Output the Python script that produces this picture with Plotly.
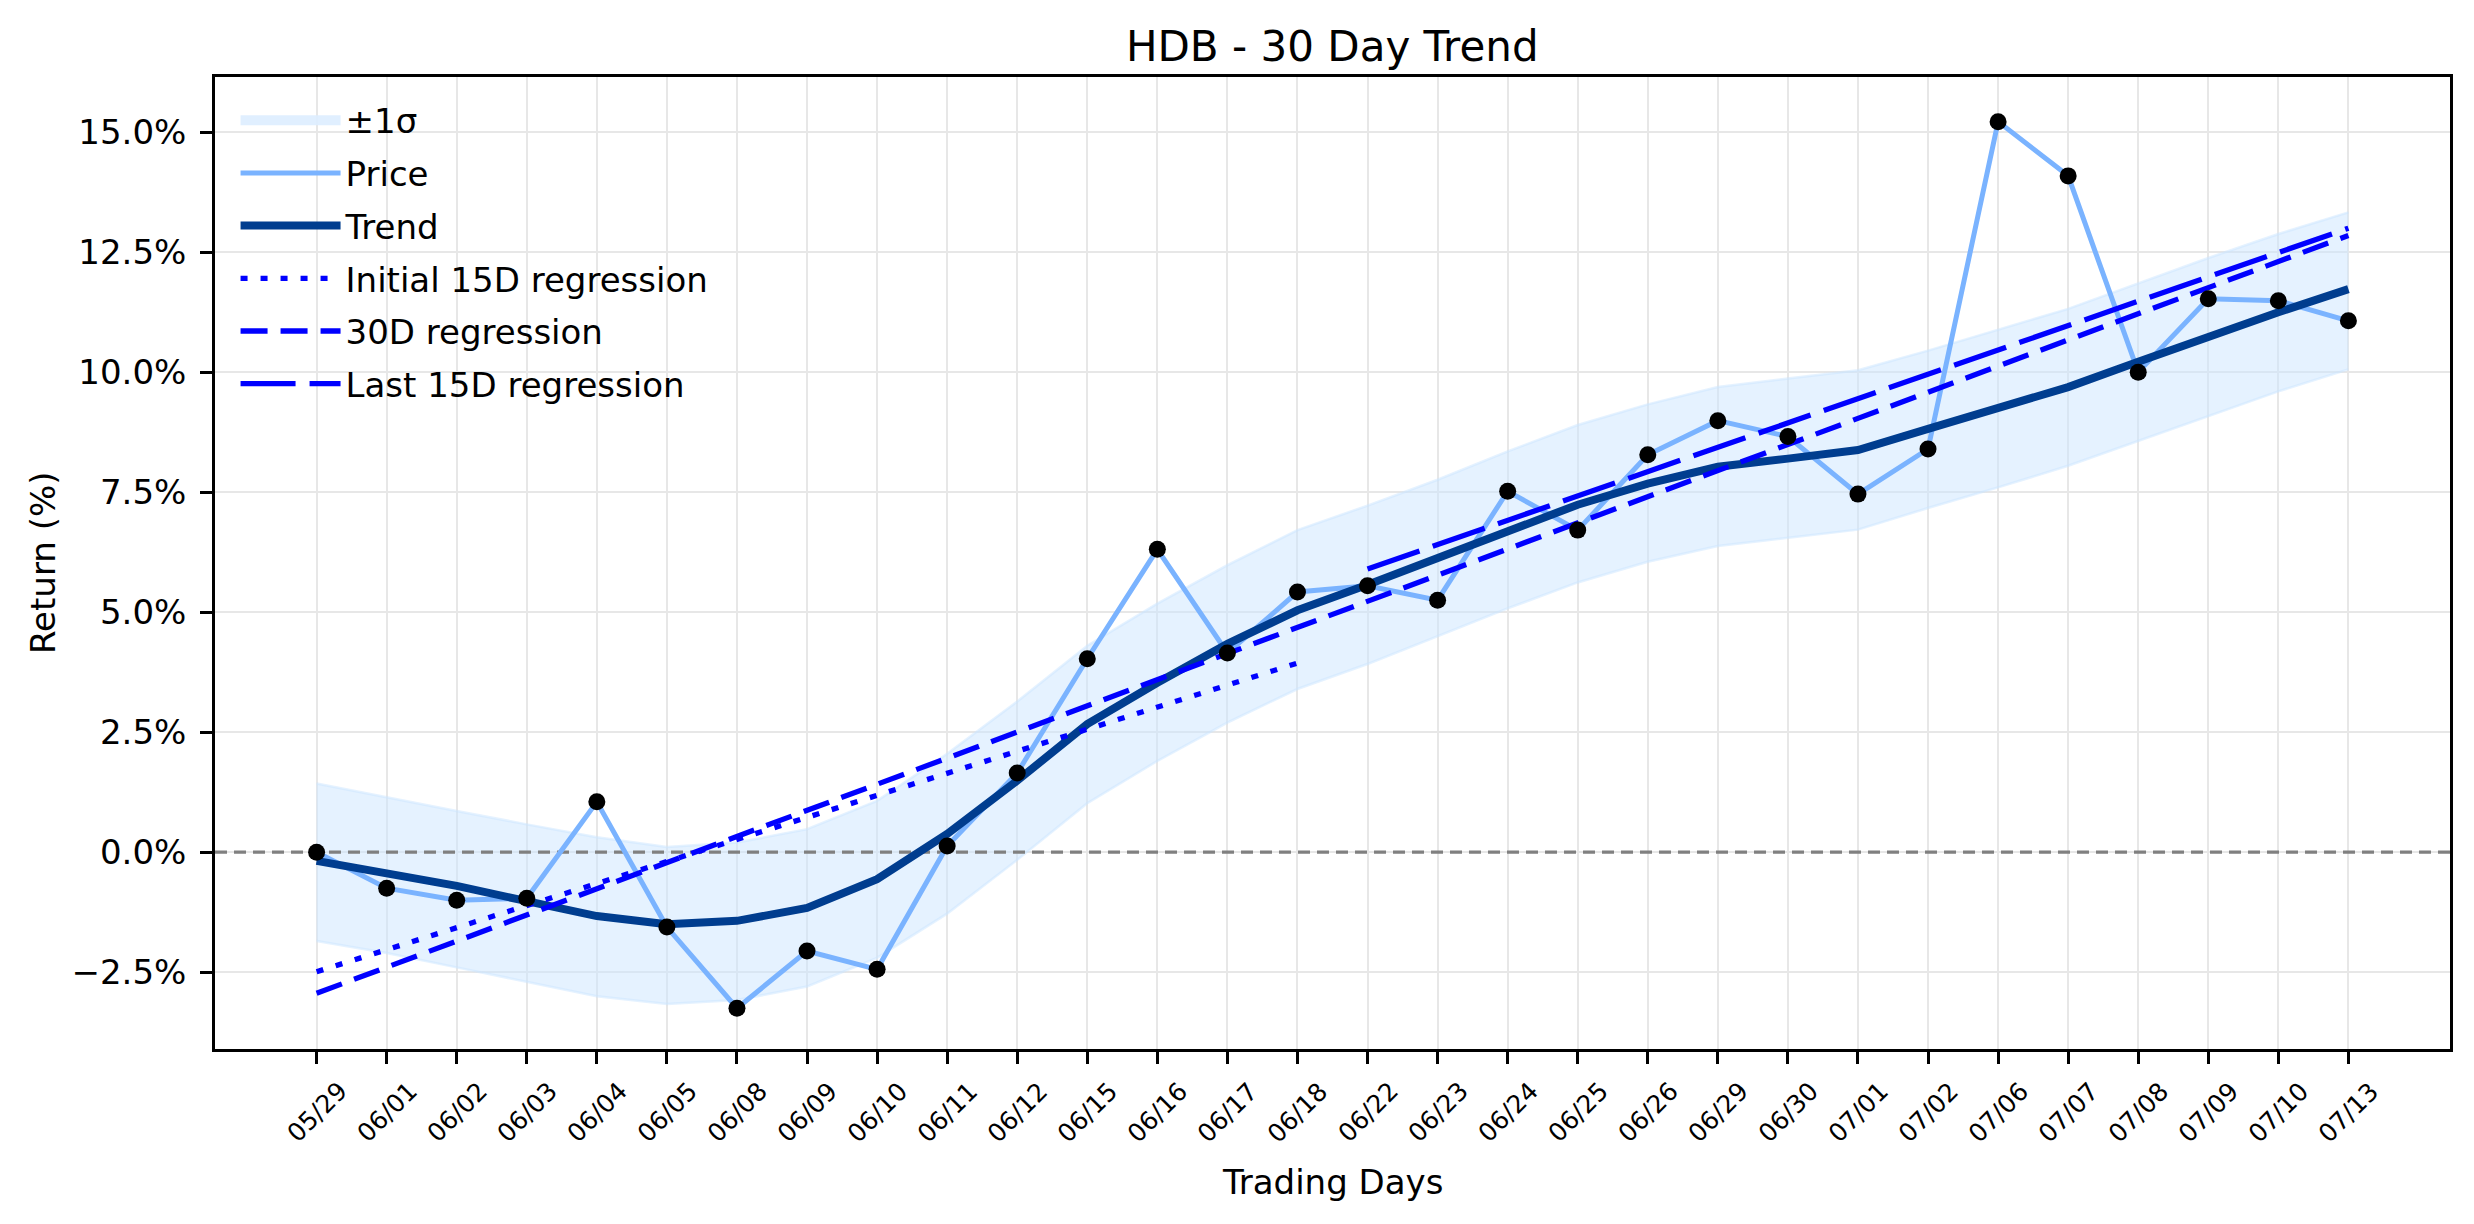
import plotly.graph_objects as go

# ---------------- data ----------------
dates = ["05/29", "06/01", "06/02", "06/03", "06/04", "06/05", "06/08", "06/09",
         "06/10", "06/11", "06/12", "06/15", "06/16", "06/17", "06/18", "06/22",
         "06/23", "06/24", "06/25", "06/26", "06/29", "06/30", "07/01", "07/02",
         "07/06", "07/07", "07/08", "07/09", "07/10", "07/13"]

price = [0.00, -0.75, -1.00, -0.96, 1.05, -1.56, -3.25, -2.06, -2.44, 0.13,
         1.65, 4.03, 6.31, 4.15, 5.42, 5.55, 5.25, 7.52, 6.71, 8.28,
         8.99, 8.66, 7.46, 8.40, 15.22, 14.09, 10.00, 11.53, 11.49, 11.07]

trend = [-0.18, -0.42, -0.70, -1.02, -1.33, -1.50, -1.43, -1.16, -0.56, 0.38,
         1.49, 2.67, 3.53, 4.34, 5.04, 5.57, 6.14, 6.71, 7.24, 7.68,
         8.03, 8.20, 8.38, 8.82, 9.25, 9.69, 10.22, 10.75, 11.25, 11.73]

band_upper = [1.43, 1.14, 0.86, 0.58, 0.31, 0.11, 0.20, 0.48, 1.07, 2.05,
              3.14, 4.30, 5.18, 5.98, 6.71, 7.22, 7.76, 8.35, 8.90, 9.33,
              9.69, 9.87, 10.04, 10.45, 10.88, 11.32, 11.85, 12.38, 12.88, 13.33]

band_lower = [-1.85, -2.10, -2.40, -2.70, -3.00, -3.16, -3.08, -2.80, -2.20, -1.28,
              -0.16, 1.02, 1.90, 2.70, 3.40, 3.92, 4.50, 5.08, 5.62, 6.05,
              6.38, 6.55, 6.72, 7.17, 7.60, 8.05, 8.57, 9.08, 9.60, 10.06]

# regression lines: fitted values at first and last day of each window
init15_days = [0, 14]
init15_vals = [-2.49, 3.94]
full30_days = [0, 29]
full30_vals = [-2.94, 12.85]
last15_days = [15, 29]
last15_vals = [5.90, 13.00]

ytick_vals = [-2.5, 0.0, 2.5, 5.0, 7.5, 10.0, 12.5, 15.0]
ytick_text = ["\u22122.5%", "0.0%", "2.5%", "5.0%", "7.5%", "10.0%", "12.5%", "15.0%"]

# ---------------- figure ----------------
FONT = "DejaVu Sans"
x = list(range(len(dates)))
pad = 0.05 * (len(dates) - 1)
x_range = [x[0] - pad, x[-1] + pad]
y_range = [-4.1, 16.15]

band_color = "rgba(204,229,255,0.5)"
reg_color = "#0000ff"

fig = go.Figure()

fig.add_trace(go.Scatter(x=x, y=band_lower, mode="lines",
                         line=dict(color=band_color, width=2.5),
                         showlegend=False, hoverinfo="skip"))
fig.add_trace(go.Scatter(x=x, y=band_upper, mode="lines", fill="tonexty",
                         fillcolor=band_color,
                         line=dict(color=band_color, width=2.5),
                         showlegend=False, hoverinfo="skip"))
# legend patch for the band
fig.add_trace(go.Scatter(x=[None], y=[None], mode="lines", name="\u00b11\u03c3",
                         legendgroup="g1",
                         line=dict(color="rgba(221,237,255,0.9)", width=24)))

# zero reference line across the whole axis range
fig.add_trace(go.Scatter(x=x_range, y=[0, 0], mode="lines",
                         line=dict(color="#808080", width=3.3, dash="12px,7px"),
                         showlegend=False, hoverinfo="skip"))

fig.add_trace(go.Scatter(x=x, y=price, mode="lines", name="Price", legendgroup="g2",
                         line=dict(color="#7ab3ff", width=5)))
fig.add_trace(go.Scatter(x=x, y=trend, mode="lines", name="Trend", legendgroup="g3",
                         line=dict(color="#003d8f", width=8)))

fig.add_trace(go.Scatter(x=[x[d] for d in init15_days], y=init15_vals, mode="lines",
                         name="Initial 15D regression", legendgroup="g4",
                         line=dict(color=reg_color, width=5.3, dash="7px,13px")))
fig.add_trace(go.Scatter(x=[x[d] for d in full30_days], y=full30_vals, mode="lines",
                         name="30D regression", legendgroup="g5",
                         line=dict(color=reg_color, width=5.3, dash="27px,13px")))
fig.add_trace(go.Scatter(x=[x[d] for d in last15_days], y=last15_vals, mode="lines",
                         name="Last 15D regression", legendgroup="g6",
                         line=dict(color=reg_color, width=5.3, dash="55px,14px")))

fig.add_trace(go.Scatter(x=x, y=price, mode="markers", showlegend=False,
                         marker=dict(color="black", size=17, line=dict(width=0))))

# rotated x tick labels (centered under each tick)
for xi, lab in zip(x, dates):
    fig.add_annotation(x=xi, y=0, xref="x", yref="paper", text=lab,
                       textangle=-45, showarrow=False, xanchor="center",
                       yanchor="middle", yshift=-63,
                       font=dict(family=FONT, size=25, color="black"))

fig.add_annotation(x=0.5, y=0, xref="paper", yref="paper", text="Trading Days",
                   showarrow=False, xanchor="center", yanchor="middle", yshift=-133,
                   font=dict(family=FONT, size=34, color="black"))
fig.add_annotation(x=0, y=0.5, xref="paper", yref="paper", text="Return (%)",
                   textangle=-90, showarrow=False, xanchor="center", yanchor="middle",
                   xshift=-172, font=dict(family=FONT, size=34, color="black"))

axis_common = dict(showline=True, linecolor="black", linewidth=2.7, mirror=True,
                   ticks="outside", ticklen=12, tickwidth=2.5, tickcolor="black",
                   showgrid=True, gridcolor="#e7e7e7", gridwidth=2, zeroline=False)

fig.update_layout(
    width=2474, height=1224,
    margin=dict(l=215, r=24, t=77, b=175),
    paper_bgcolor="white", plot_bgcolor="white",
    font=dict(family=FONT, size=34, color="black"),
    title=dict(text="HDB - 30 Day Trend", x=0.5385, xanchor="center",
               y=1 - 46 / 1224, yanchor="middle", yref="container",
               font=dict(family=FONT, size=42, color="black")),
    xaxis=dict(range=x_range, tickvals=x, showticklabels=False, **axis_common),
    yaxis=dict(range=y_range, tickvals=ytick_vals, ticktext=ytick_text,
               tickfont=dict(family=FONT, size=34), ticklabelstandoff=7,
               **axis_common),
    legend=dict(x=0.0092, y=0.985, xanchor="left", yanchor="top",
                bgcolor="rgba(0,0,0,0)", borderwidth=0,
                font=dict(family=FONT, size=34), traceorder="grouped",
                tracegroupgap=5.5, itemwidth=100),
    showlegend=True,
)

fig.write_html("out.html")
